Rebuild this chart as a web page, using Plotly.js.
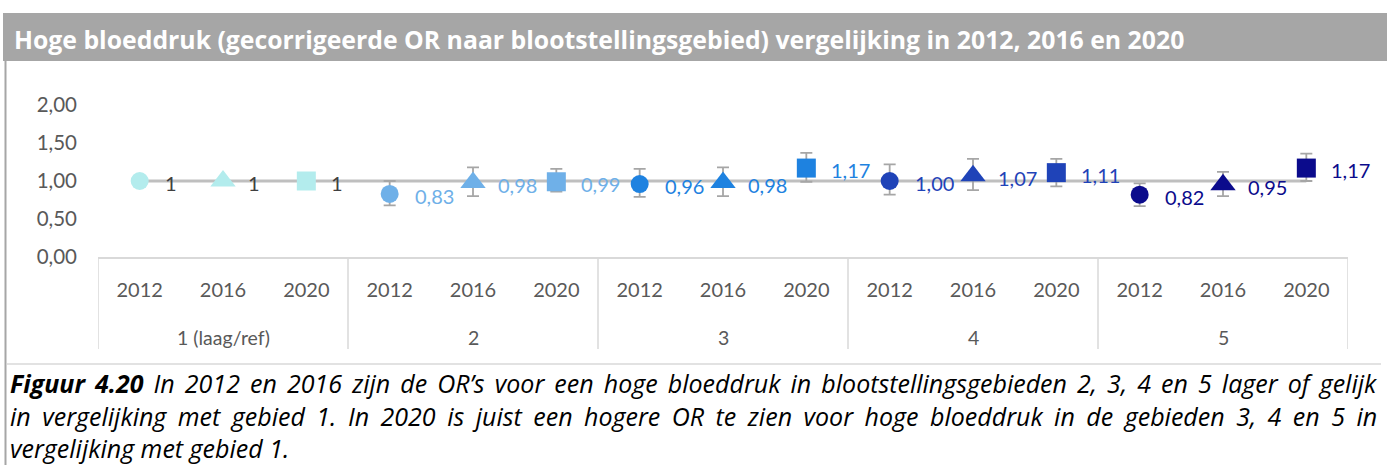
<!DOCTYPE html>
<html>
<head>
<meta charset="utf-8">
<script src="https://cdn.plot.ly/plotly-3.0.1.min.js"></script>
<style>
html,body{margin:0;padding:0;background:#fff;}
#chart{width:1387px;height:465px;}
</style>
</head>
<body>
<div id="chart"></div>
<script>
// ---- data ----
const groups = ["1 (laag/ref)", "2", "3", "4", "5"];
const years = ["2012", "2016", "2020"];
const orG1 = [1, 1, 1];
const orG2 = [0.83, 0.98, 0.99];
const orG3 = [0.96, 0.98, 1.17];
const orG4 = [1.00, 1.07, 1.11];
const orG5 = [0.82, 0.95, 1.17];
const lowG1 = [null, null, null];
const upG1 = [null, null, null];
const lowG2 = [0.68, 0.80, 0.86];
const upG2 = [1.00, 1.18, 1.16];
const lowG3 = [0.79, 0.80, 0.99];
const upG3 = [1.16, 1.18, 1.37];
const lowG4 = [0.82, 0.88, 0.93];
const upG4 = [1.22, 1.29, 1.29];
const lowG5 = [0.67, 0.80, 1.00];
const upG5 = [0.97, 1.12, 1.36];
const labelsG1 = ["1", "1", "1"];
const yTickVals = [0, 0.5, 1, 1.5, 2];
const refValue = 1;
const titleText = "Hoge bloeddruk (gecorrigeerde OR naar blootstellingsgebied) vergelijking in 2012, 2016 en 2020";
const captionLines = [
  "<b>Figuur 4.20</b> In 2012 en 2016 zijn de OR’s voor een hoge bloeddruk in blootstellingsgebieden 2, 3, 4 en 5 lager of gelijk",
  "in vergelijking met gebied 1. In 2020 is juist een hogere OR te zien voor hoge bloeddruk in de gebieden 3, 4 en 5 in",
  "vergelijking met gebied 1."
];

// ---- styling ----
const groupColors = ["#b3eced", "#6fb0e8", "#1e82e0", "#1f43b8", "#0b0b8c"];
const labelColors = ["#404040", "#6fb0e8", "#1e82e0", "#1f43b8", "#0b0b8c"];
const symbols = ["circle", "triangle-up", "square"];
const sizes = [18, 22, 19];
const FONT = "Lato, 'Open Sans', sans-serif";
const FONT2 = "'Open Sans', Lato, sans-serif";
const capSpacing = [3.6, 5, 0];

const orAll = [orG1, orG2, orG3, orG4, orG5];
const lowAll = [lowG1, lowG2, lowG3, lowG4, lowG5];
const upAll = [upG1, upG2, upG3, upG4, upG5];

const fmt = v => v.toFixed(2).replace(".", ",");

const traces = [];
const annotations = [];
const shapes = [];
const nY = years.length;
const nCat = groups.length * nY;

// reference line at OR = 1
shapes.push({type: "line", xref: "x", yref: "y", x0: 0, x1: nCat - 1, y0: refValue, y1: refValue,
  line: {color: "#bfbfbf", width: 3}, layer: "below"});

groups.forEach((g, gi) => {
  const xs = years.map((y, yi) => gi * nY + yi);
  const vals = orAll[gi];
  const hasErr = lowAll[gi].some(v => v !== null);
  const t = {
    type: "scatter", mode: "markers", x: xs, y: vals, showlegend: false,
    marker: {color: groupColors[gi], symbol: symbols, size: sizes, opacity: 1, line: {width: 0}},
    hoverinfo: "skip"
  };
  if (hasErr) {
    t.error_y = {type: "data", symmetric: false,
      array: vals.map((v, i) => +(upAll[gi][i] - v).toFixed(3)),
      arrayminus: vals.map((v, i) => +(v - lowAll[gi][i]).toFixed(3)),
      color: "#a6a6a6", thickness: 1.8, width: 6};
  }
  traces.push(t);
  vals.forEach((v, i) => {
    annotations.push({xref: "x", yref: "y", x: xs[i], y: v, text: gi === 0 ? labelsG1[i] : fmt(v),
      showarrow: false, xanchor: "left", yanchor: "middle", xshift: 23, yshift: -2,
      font: {family: FONT, size: 20, color: labelColors[gi]}});
  });
  // group label
  annotations.push({xref: "x", yref: "paper", x: gi * nY + (nY - 1) / 2, y: (257 - 337) / 152,
    text: g, showarrow: false, xanchor: "center", yanchor: "middle",
    font: {family: FONT, size: 19.5, color: "#595959"}});
});

// dividers of category axis
for (let k = 0; k <= groups.length; k++) {
  shapes.push({type: "line", xref: "x", yref: "paper", x0: k * nY - 0.5, x1: k * nY - 0.5,
    y0: 0, y1: (257 - 349) / 152, line: {color: "#d9d9d9", width: 1.5}});
}

// title band
const px = p => (p - 98) / 1250;
const py = p => (257 - p) / 152;
shapes.push({type: "rect", xref: "paper", yref: "paper", x0: px(3), x1: px(1390), y0: py(13), y1: py(61),
  fillcolor: "#a6a6a6", line: {width: 0}, layer: "below"});
// left frame line
shapes.push({type: "line", xref: "paper", yref: "paper", x0: px(5.5), x1: px(5.5), y0: py(61), y1: py(470),
  line: {color: "#a6a6a6", width: 2}});
// caption separator
shapes.push({type: "line", xref: "paper", yref: "paper", x0: px(7), x1: px(1381), y0: py(364), y1: py(364),
  line: {color: "#d9d9d9", width: 1.5}});

annotations.push({xref: "paper", yref: "paper", x: px(12), y: py(39), text: "<b>" + titleText + "</b>",
  showarrow: false, xanchor: "left", yanchor: "middle",
  font: {family: FONT2, size: 24.8, color: "#ffffff"}});

const capY = [383, 416, 448];
captionLines.forEach((c, i) => {
  const txt = capSpacing[i] ? '<span style="word-spacing:' + capSpacing[i] + 'px">' + c + '</span>' : c;
  annotations.push({xref: "paper", yref: "paper", x: px(8), y: py(capY[i]), text: "<i>" + txt + "</i>",
    showarrow: false, xanchor: "left", yanchor: "middle",
    font: {family: FONT2, size: 25, color: "#000000"}});
});

const layout = {
  width: 1387, height: 465,
  margin: {l: 98, r: 39, t: 105, b: 208, pad: 0},
  paper_bgcolor: "#ffffff", plot_bgcolor: "#ffffff",
  separators: ",.",
  font: {family: FONT, color: "#595959"},
  showlegend: false,
  xaxis: {
    range: [-0.5, nCat - 0.5], showgrid: false, zeroline: false,
    showline: true, linecolor: "#d9d9d9", linewidth: 1.5,
    tickmode: "array", tickvals: [...Array(nCat).keys()],
    ticktext: groups.flatMap(() => years),
    ticks: "", ticklabelstandoff: 14,
    tickfont: {family: FONT, size: 20, color: "#595959"}, fixedrange: true
  },
  yaxis: {
    range: [0, 2], showgrid: false, zeroline: false, showline: false,
    tickmode: "array", tickvals: yTickVals, tickformat: ".2f",
    ticks: "", ticklabelstandoff: 20,
    tickfont: {family: FONT, size: 20.5, color: "#595959"}, fixedrange: true
  },
  shapes: shapes,
  annotations: annotations
};

Plotly.newPlot("chart", traces, layout, {displayModeBar: false, staticPlot: true});
</script>
</body>
</html>
